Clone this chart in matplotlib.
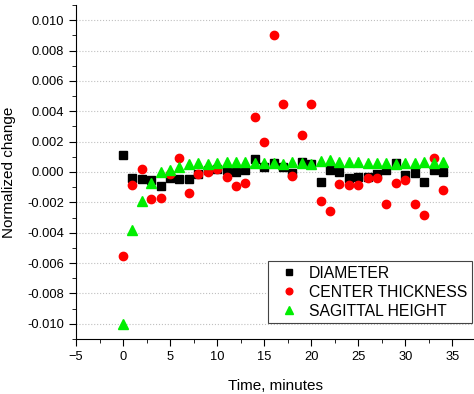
import matplotlib
matplotlib.use("Agg")
import matplotlib.pyplot as plt
from matplotlib.ticker import MultipleLocator

plt.rcParams['font.family'] = ['Liberation Sans', 'DejaVu Sans']

# time in minutes
time = list(range(35))

diameter = [0.0011, -0.0004, -0.00049, -0.00053, -0.0009, -0.0004, -0.00044, -0.00049,
            -0.00013, 0.0001, 0.0002, 0.00013, 0.0, 0.00013, 0.00084, 0.00035, 0.0006,
            0.0003, -0.00004, 0.00066, 0.0005, -0.00064, 0.0001, 0.0, -0.00038, -0.00033,
            -0.0003, -0.0001, 0.0001, 0.0006, -0.0002, -0.00004, -0.00064, 0.0001, 0.0]

center_thickness = [-0.0055, -0.00084, 0.0002, -0.0018, -0.0017, -0.00015, 0.00095, -0.0014,
                    -0.0001, 0.0, 0.0002, -0.0003, -0.0009, -0.00075, 0.0036, 0.0020, 0.0090,
                    0.0045, -0.00026, 0.00245, 0.0045, -0.0019, -0.0026, -0.0008, -0.00088,
                    -0.00088, -0.00038, -0.0004, -0.0021, -0.00075, -0.00053, -0.0021, -0.0028,
                    0.0009, -0.0012]

sagittal_height = [-0.010, -0.0038, -0.0019, -0.0007, 0.0, 0.00013, 0.00035, 0.0005, 0.00057,
                   0.00055, 0.0006, 0.00066, 0.00066, 0.00066, 0.0006, 0.0006, 0.00057, 0.00053,
                   0.00066, 0.0006, 0.00053, 0.00075, 0.0008, 0.00066, 0.00066, 0.00066, 0.00057,
                   0.00057, 0.00057, 0.00053, 0.00057, 0.0006, 0.00066, 0.00057, 0.00066]

fig = plt.figure(figsize=(4.74, 3.94), dpi=100)
ax = fig.add_axes([76 / 474, 55 / 394, 398 / 474, 334 / 394])

ax.plot(time, diameter, 's', color='black', markersize=5.2, label='DIAMETER')
ax.plot(time, center_thickness, 'o', color='#ff0000', markersize=6, label='CENTER THICKNESS')
ax.plot(time, sagittal_height, '^', color='#00ee00', markersize=6.5, label='SAGITTAL HEIGHT')

ax.set_xlim(-5, 37.3)
ax.set_ylim(-0.011, 0.011)
ax.xaxis.set_major_locator(MultipleLocator(5))
ax.xaxis.set_minor_locator(MultipleLocator(2.5))
ax.yaxis.set_major_locator(MultipleLocator(0.002))
ax.yaxis.set_minor_locator(MultipleLocator(0.001))
ax.yaxis.set_major_formatter(plt.FuncFormatter(lambda v, p: f"{v:.3f}"))

for side in ['top', 'right']:
    ax.spines[side].set_visible(False)
ax.tick_params(which='both', direction='out', labelsize=9.3)
ax.tick_params(which='major', length=5)
ax.tick_params(which='minor', length=3)

ax.yaxis.grid(True, linestyle=':', color='#c0c0c0', linewidth=0.8)
ax.set_axisbelow(True)

ax.set_xlabel('Time, minutes', fontsize=11, labelpad=12)
ax.set_ylabel('Normalized change', fontsize=11, labelpad=8)

leg = ax.legend(loc='upper right', bbox_to_anchor=(472 / 474, 1 - 261 / 394),
                bbox_transform=fig.transFigure, fontsize=11.3, frameon=True,
                fancybox=False, framealpha=1, edgecolor='#444444', markerscale=0.8,
                labelspacing=0.25, borderpad=0.3, borderaxespad=0,
                handletextpad=0.3, handlelength=2.0)
leg.get_frame().set_linewidth(0.8)

fig.savefig('out.png', dpi=100)
